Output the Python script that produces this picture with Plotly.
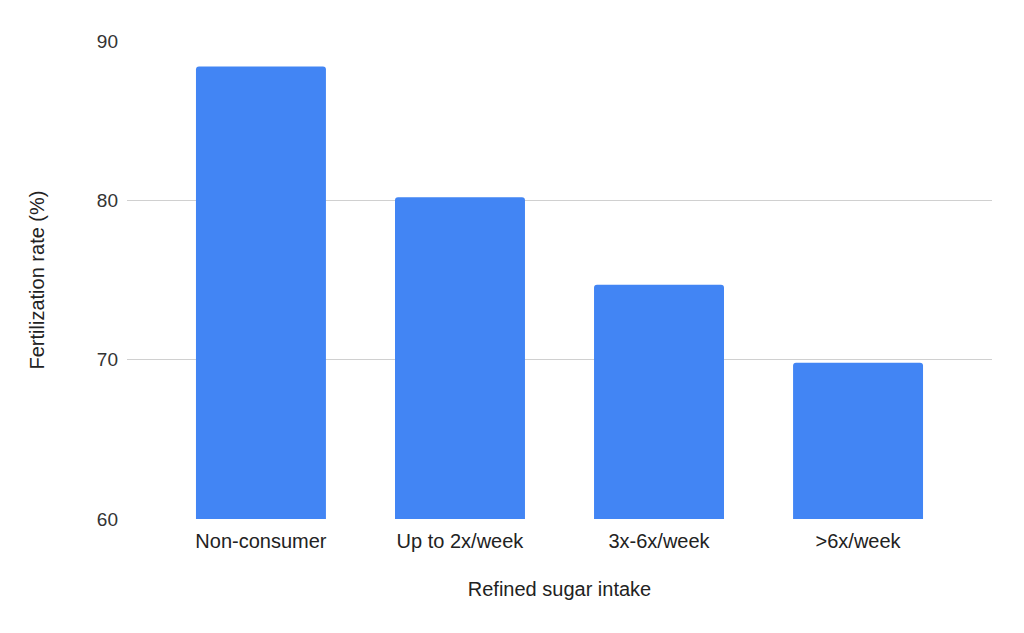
import plotly.graph_objects as go

categories = ['Non-consumer', 'Up to 2x/week', '3x-6x/week', '>6x/week']
fertilization_rate = [88.4, 80.2, 74.7, 69.8]
y_ticks = [60, 70, 80, 90]

fig = go.Figure(go.Bar(
    x=categories,
    y=fertilization_rate,
    marker=dict(color='#4285F4', cornerradius=3, line=dict(width=0)),
    width=0.653,
))

fig.update_layout(
    width=1024, height=633,
    margin=dict(l=119, r=40, t=33, b=122),
    paper_bgcolor='white', plot_bgcolor='white',
    font=dict(family='Liberation Sans, Arial, sans-serif', size=20, color='#222222'),
    showlegend=False,
    xaxis=dict(
        title=dict(text='Refined sugar intake', standoff=30, font=dict(size=20)),
        range=[-0.673, 3.673],
        showgrid=False, showline=False, ticks='', ticklabelstandoff=8,
        tickfont=dict(size=20, color='#222222'),
    ),
    yaxis=dict(
        title=dict(text='Fertilization rate (%)', standoff=46, font=dict(size=20)),
        range=[60, 90], tickvals=y_ticks,
        showgrid=True, gridcolor='#d0d0d0', gridwidth=1,
        zeroline=False, showline=False, ticks='', ticklabelstandoff=8,
        tickfont=dict(size=19, color='#333333'),
    ),
)

fig.write_html('out.html')
